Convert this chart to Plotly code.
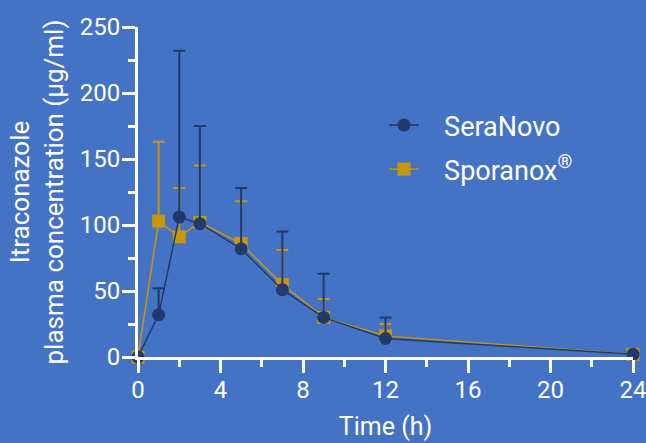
import plotly.graph_objects as go

time_h = [0, 1, 2, 3, 5, 7, 9, 12, 24]
seranovo = [0, 32, 106, 101, 82, 51, 30, 14, 2]
seranovo_err = [0, 20, 126, 74, 46, 44, 33, 16, 0]
sporanox = [0, 103, 91, 102, 86, 55, 30, 16, 2]
sporanox_err = [0, 60, 37, 43, 32, 26, 14, 9, 0]

BG = "#4472c4"
NAVY = "#1f3a6b"
GOLD = "#c8960a"
FONT = "Roboto, sans-serif"
PAD = "\u00a0\u00a0\u00a0"

fig = go.Figure()
fig.add_trace(go.Scatter(
    x=time_h, y=sporanox, name=PAD + "Sporanox<sup>®</sup>", mode="lines+markers",
    line=dict(color=GOLD, width=1.5),
    marker=dict(symbol="square", size=13, color=GOLD),
    error_y=dict(type="data", array=sporanox_err, arrayminus=[0]*len(time_h),
                 symmetric=False, color=GOLD, thickness=2, width=6),
    cliponaxis=False, legendrank=2, legendgroup="b",
))
fig.add_trace(go.Scatter(
    x=time_h, y=seranovo, name=PAD + "SeraNovo", mode="lines+markers",
    line=dict(color=NAVY, width=1.5),
    marker=dict(symbol="circle", size=13, color=NAVY),
    error_y=dict(type="data", array=seranovo_err, arrayminus=[0]*len(time_h),
                 symmetric=False, color=NAVY, thickness=2, width=6),
    cliponaxis=False, legendrank=1, legendgroup="a",
))

fig.update_layout(
    width=646, height=443,
    paper_bgcolor=BG, plot_bgcolor=BG,
    margin=dict(l=138, r=13, t=27, b=86),
    font=dict(family=FONT, color="white", size=24),
    showlegend=True,
    legend=dict(x=0.497, y=0.635, xanchor="left", yanchor="middle",
                bgcolor="rgba(0,0,0,0)", font=dict(size=27, color="white"),
                itemwidth=30, traceorder="grouped", tracegroupgap=6),
)
fig.update_xaxes(
    range=[0, 24], tickmode="linear", tick0=0, dtick=4,
    showgrid=False, zeroline=False, automargin=False,
    showline=True, linecolor="white", linewidth=3,
    ticks="outside", ticklen=13, tickwidth=3, tickcolor="white",
    minor=dict(dtick=2, tick0=0, ticks="outside", ticklen=7, tickwidth=3, tickcolor="white"),
    tickfont=dict(size=24, color="white"), ticklabeloverflow="allow",
    ticklabelstandoff=-4,
    title=dict(text="Time (h)", font=dict(size=25, color="white"), standoff=15),
)
fig.update_yaxes(
    range=[0, 250], tickmode="linear", tick0=0, dtick=50,
    showgrid=False, zeroline=False, automargin=False,
    showline=True, linecolor="white", linewidth=3,
    ticks="outside", ticklen=13, tickwidth=3, tickcolor="white",
    minor=dict(dtick=25, tick0=0, ticks="outside", ticklen=7, tickwidth=3, tickcolor="white"),
    tickfont=dict(size=24, color="white"), ticklabeloverflow="allow",
    ticklabelstandoff=-3,
    title=dict(text="Itraconazole<br>plasma concentration (µg/ml)",
               font=dict(size=26, color="white"), standoff=9),
)

fig.write_html("out.html", config={"displayModeBar": False},
               post_script="document.body.style.margin='0';")
